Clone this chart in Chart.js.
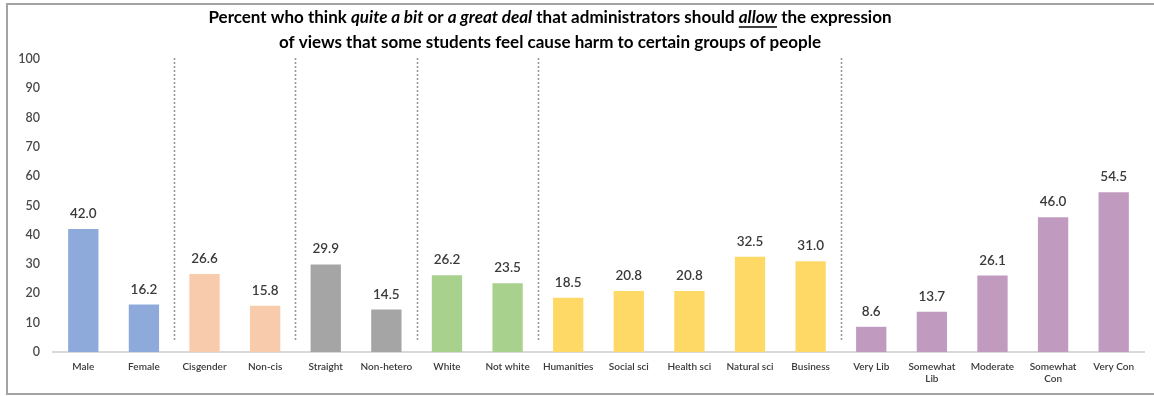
<!DOCTYPE html>
<html>
<head>
<meta charset="utf-8">
<script src="https://cdn.jsdelivr.net/npm/chart.js@4/dist/chart.umd.min.js"></script>
<style>
  html, body { margin: 0; padding: 0; background: #ffffff; overflow: hidden; }
  #wrap { position: relative; width: 1154px; height: 396px; overflow: hidden; }
  #frame { position: absolute; left: 6px; top: 3px; width: 1170px; height: 388px;
           border: 2px solid #a3a3a3; box-sizing: content-box; pointer-events: none; }
  canvas { position: absolute; left: 0; top: 0; }
</style>
</head>
<body>
<div id="wrap">
  <canvas id="chart" width="1154" height="396"></canvas>
  <div id="frame"></div>
</div>
<script>
// Groups of respondents and the share in each group
const categories = [
  'Male', 'Female',
  'Cisgender', 'Non-cis',
  'Straight', 'Non-hetero',
  'White', 'Not white',
  'Humanities', 'Social sci', 'Health sci', 'Natural sci', 'Business',
  'Very Lib', ['Somewhat', 'Lib'], 'Moderate', ['Somewhat', 'Con'], 'Very Con'
];
const values = [
  42.0, 16.2,
  26.6, 15.8,
  29.9, 14.5,
  26.2, 23.5,
  18.5, 20.8, 20.8, 32.5, 31.0,
  8.6, 13.7, 26.1, 46.0, 54.5
];
// Colour of each bar, one shade per group
const BLUE = '#8eaadb', PEACH = '#f8cbad', GRAY = '#a5a5a5',
      GREEN = '#a9d18e', YELLOW = '#ffd966', PURPLE = '#c09bbf';
const barColors = [
  BLUE, BLUE,
  PEACH, PEACH,
  GRAY, GRAY,
  GREEN, GREEN,
  YELLOW, YELLOW, YELLOW, YELLOW, YELLOW,
  PURPLE, PURPLE, PURPLE, PURPLE, PURPLE
];
// Dotted separators sit after these bar indices
const groupEnds = [1, 3, 5, 7, 12];
const yTicks = [0, 10, 20, 30, 40, 50, 60, 70, 80, 90, 100];

const FONT = 'Lato, "Open Sans", sans-serif';

// Two-line heading with italic / underlined phrases
const titleLines = [
  [
    { t: 'Percent who think ' },
    { t: 'quite a bit', i: true },
    { t: ' or ' },
    { t: 'a great deal', i: true },
    { t: ' that administrators should ' },
    { t: 'allow', i: true, u: true },
    { t: ' the expression' }
  ],
  [ { t: 'of views that some students feel cause harm to certain groups of people' } ]
];

const titlePlugin = {
  id: 'richTitle',
  afterDraw(chart) {
    const ctx = chart.ctx;
    const cx = 550, ys = [18, 43], size = 17;
    ctx.save();
    ctx.fillStyle = '#000000';
    ctx.strokeStyle = '#000000';
    ctx.textBaseline = 'middle';
    ctx.textAlign = 'left';
    titleLines.forEach((line, li) => {
      let total = 0;
      line.forEach(s => {
        ctx.font = (s.i ? 'italic ' : '') + 'bold ' + size + 'px ' + FONT;
        s.w = ctx.measureText(s.t).width;
        total += s.w;
      });
      let x = cx - total / 2;
      line.forEach(s => {
        ctx.font = (s.i ? 'italic ' : '') + 'bold ' + size + 'px ' + FONT;
        ctx.fillText(s.t, x, ys[li]);
        if (s.u) {
          ctx.lineWidth = 1.4;
          ctx.beginPath();
          ctx.moveTo(x, ys[li] + 9);
          ctx.lineTo(x + s.w, ys[li] + 9);
          ctx.stroke();
        }
        x += s.w;
      });
    });
    ctx.restore();
  }
};

const separatorPlugin = {
  id: 'groupSeparators',
  beforeDatasetsDraw(chart) {
    const ctx = chart.ctx, xs = chart.scales.x, area = chart.chartArea;
    ctx.save();
    ctx.strokeStyle = '#9a9a9a';
    ctx.lineWidth = 1.6;
    ctx.setLineDash([2, 2]);
    groupEnds.forEach(i => {
      const x = Math.round((xs.getPixelForValue(i) + xs.getPixelForValue(i + 1)) / 2) + 0.5;
      ctx.beginPath();
      ctx.moveTo(x, area.top - 1);
      ctx.lineTo(x, area.bottom - 10);
      ctx.stroke();
    });
    ctx.restore();
  }
};

const valueLabelPlugin = {
  id: 'valueLabels',
  afterDatasetsDraw(chart) {
    const ctx = chart.ctx;
    const meta = chart.getDatasetMeta(0);
    ctx.save();
    ctx.font = '600 13.5px ' + FONT;
    ctx.fillStyle = '#3a3a3a';
    ctx.textAlign = 'center';
    ctx.textBaseline = 'alphabetic';
    meta.data.forEach((bar, i) => {
      ctx.fillText(values[i].toFixed(1), bar.x, bar.y - 11);
    });
    ctx.restore();
  }
};

new Chart(document.getElementById('chart'), {
  type: 'bar',
  data: {
    labels: categories,
    datasets: [{
      data: values,
      backgroundColor: barColors,
      borderWidth: 0,
      barPercentage: 0.5,
      categoryPercentage: 1.0
    }]
  },
  options: {
    responsive: false,
    animation: false,
    events: [],
    layout: { padding: { top: 59, right: 10, left: 0, bottom: 0 } },
    plugins: { legend: { display: false }, title: { display: false }, tooltip: { enabled: false } },
    scales: {
      x: {
        grid: { display: false, drawTicks: false },
        border: { display: true, color: '#d9d9d9', width: 2 },
        ticks: {
          font: { family: FONT, size: 10, weight: '600' },
          color: '#3a3a3a',
          padding: 9,
          maxRotation: 0,
          autoSkip: false
        },
        afterFit(scale) { scale.height = 44; }
      },
      y: {
        min: 0,
        max: 100,
        grid: { display: false, drawTicks: false },
        border: { display: false },
        afterBuildTicks(scale) { scale.ticks = yTicks.map(v => ({ value: v })); },
        ticks: {
          font: { family: FONT, size: 12.5, weight: '600' },
          color: '#4a4a4a',
          padding: 13
        },
        afterFit(scale) { scale.width = 53; }
      }
    }
  },
  plugins: [titlePlugin, separatorPlugin, valueLabelPlugin]
});
</script>
</body>
</html>
